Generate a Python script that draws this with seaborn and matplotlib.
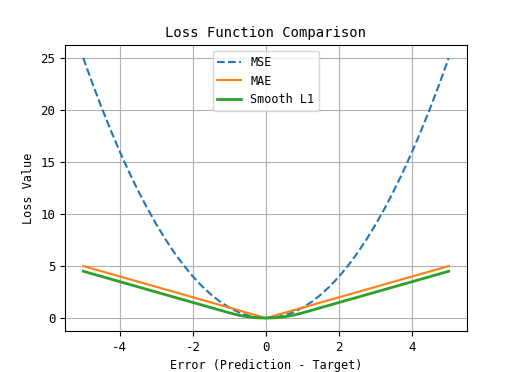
import matplotlib
matplotlib.use("Agg")
import matplotlib.pyplot as plt
import seaborn as sns
import pandas as pd

errors = [-5, -4.75, -4.5, -4.25, -4, -3.75, -3.5, -3.25, -3, -2.75, -2.5, -2.25, -2,
          -1.75, -1.5, -1.25, -1, -0.75, -0.5, -0.25, 0, 0.25, 0.5, 0.75, 1, 1.25,
          1.5, 1.75, 2, 2.25, 2.5, 2.75, 3, 3.25, 3.5, 3.75, 4, 4.25, 4.5, 4.75, 5]
mse = [25, 22.56, 20.25, 18.06, 16, 14.06, 12.25, 10.56, 9, 7.56, 6.25, 5.06, 4,
       3.06, 2.25, 1.56, 1, 0.56, 0.25, 0.06, 0, 0.06, 0.25, 0.56, 1, 1.56,
       2.25, 3.06, 4, 5.06, 6.25, 7.56, 9, 10.56, 12.25, 14.06, 16, 18.06, 20.25, 22.56, 25]
mae = [5, 4.75, 4.5, 4.25, 4, 3.75, 3.5, 3.25, 3, 2.75, 2.5, 2.25, 2,
       1.75, 1.5, 1.25, 1, 0.75, 0.5, 0.25, 0, 0.25, 0.5, 0.75, 1, 1.25,
       1.5, 1.75, 2, 2.25, 2.5, 2.75, 3, 3.25, 3.5, 3.75, 4, 4.25, 4.5, 4.75, 5]
smooth_l1 = [4.5, 4.25, 4, 3.75, 3.5, 3.25, 3, 2.75, 2.5, 2.25, 2, 1.75, 1.5,
             1.25, 1, 0.75, 0.5, 0.28, 0.12, 0.03, 0, 0.03, 0.12, 0.28, 0.5, 0.75,
             1, 1.25, 1.5, 1.75, 2, 2.25, 2.5, 2.75, 3, 3.25, 3.5, 3.75, 4, 4.25, 4.5]

plt.rcParams['font.family'] = ['DejaVu Sans Mono', 'DejaVu Sans']
plt.rcParams['axes.unicode_minus'] = False
plt.rcParams['font.size'] = 9

df = pd.DataFrame({'x': errors, 'MSE': mse, 'MAE': mae, 'Smooth L1': smooth_l1})

fig = plt.figure(figsize=(5.18, 3.72), dpi=100)
ax = fig.add_axes([0.1255, 0.110, 0.776, 0.769])

sns.lineplot(data=df, x='x', y='MSE', ax=ax, color='#1f77b4', linestyle='--', linewidth=1.5, label='MSE')
sns.lineplot(data=df, x='x', y='MAE', ax=ax, color='#ff7f0e', linewidth=1.5, label='MAE')
sns.lineplot(data=df, x='x', y='Smooth L1', ax=ax, color='#2ca02c', linewidth=2, label='Smooth L1')

ax.set_xticks([-4, -2, 0, 2, 4])
ax.set_yticks([0, 5, 10, 15, 20, 25])
ax.tick_params(labelsize=9)
ax.grid(True, color='#b0b0b0', linewidth=0.8)
ax.set_axisbelow(True)
ax.set_title('Loss Function Comparison', fontsize=10)
ax.set_xlabel('Error (Prediction - Target)', fontsize=8.5)
ax.set_ylabel('Loss Value', fontsize=8.5)
ax.legend(loc='upper center', fontsize=8.5)

fig.savefig('out.png', dpi=100)
